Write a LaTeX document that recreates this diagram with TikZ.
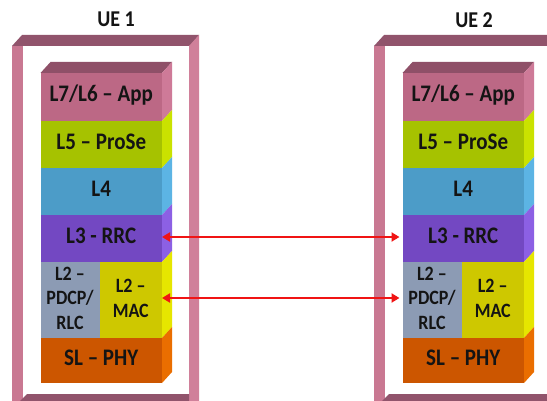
\documentclass[tikz,border=0pt]{standalone}
\usepackage{fontspec}
\usepackage{graphicx}
\setmainfont{Carlito}
\usetikzlibrary{arrows.meta}

% frame colours
\definecolor{frameF}{RGB}{201,120,146}
\definecolor{frameS}{RGB}{208,128,154}
\definecolor{frameT}{RGB}{145,84,108}
% layer colours: front / side
\definecolor{appF}{RGB}{188,104,133}
\definecolor{appS}{RGB}{206,122,152}
\definecolor{appT}{RGB}{143,80,104}
\definecolor{proseF}{RGB}{166,194,0}
\definecolor{proseS}{RGB}{202,226,0}
\definecolor{lfourF}{RGB}{76,156,200}
\definecolor{lfourS}{RGB}{92,180,228}
\definecolor{rrcF}{RGB}{115,72,194}
\definecolor{rrcS}{RGB}{140,96,228}
\definecolor{pdcpF}{RGB}{140,155,180}
\definecolor{macF}{RGB}{206,200,0}
\definecolor{macS}{RGB}{230,230,0}
\definecolor{phyF}{RGB}{204,86,0}
\definecolor{phyS}{RGB}{234,110,0}
\definecolor{sigred}{RGB}{240,20,20}

% slightly tall lettering
\newcommand\tall[1]{\scalebox{1}[1.13]{\begin{tabular}{@{}c@{}}#1\end{tabular}}}

\tikzset{
  layerbox/.style={draw=none, inner sep=0pt, outer sep=0pt, anchor=north west,
    align=center, text=black!92, font=\fontsize{21}{22}\selectfont\bfseries},
  smallbox/.style={layerbox, font=\fontsize{18}{22}\selectfont\bfseries},
  uelabel/.style={text=black!92, font=\fontsize{20}{24}\selectfont\bfseries},
  sig/.style={draw=sigred, line width=2.8pt, {Triangle[length=8pt,width=9pt]}-{Triangle[length=8pt,width=9pt]}},
}

% side face to the right of a front-face node
\newcommand\sideface[2]{%
  \fill[#2] (#1.north east) -- ([shift={(10,-11)}]#1.north east)
    -- ([shift={(10,-11)}]#1.south east) -- (#1.south east) -- cycle;}

\begin{document}
\begin{tikzpicture}[x=1pt,y=-1pt]
\useasboundingbox (0,0) rectangle (547,401);
\clip (0,0) rectangle (547,401);
\fill[white] (0,0) rectangle (547,401);

\foreach \u/\x in {1/0,2/362}{
  % open 3-D frame around each UE
  \fill[frameT] (\x+12,46) -- (\x+190,46) -- (\x+199,35) -- (\x+22,35) -- cycle;
  \fill[frameF] (\x+12,46) rectangle (\x+23,401);
  \fill[frameS] (\x+189,46) -- (\x+199,35) -- (\x+199,401) -- (\x+189,401) -- cycle;
  \fill[frameT] (\x+20,401) -- (\x+27,394) -- (\x+189,394) -- (\x+189,401) -- cycle;

  % protocol stack, front faces
  \node[layerbox, fill=appF,   minimum width=121.5pt, minimum height=48pt] (app\u)   at (\x+40.5,73)  {\tall{L7/L6 – App}};
  \node[layerbox, fill=proseF, minimum width=121.5pt, minimum height=47pt] (prose\u) at (\x+40.5,121) {\tall{L5 – ProSe}};
  \node[layerbox, fill=lfourF, minimum width=121.5pt, minimum height=47pt] (lfour\u) at (\x+40.5,168) {\tall{L4}};
  \node[layerbox, fill=rrcF,   minimum width=121.5pt, minimum height=47pt] (rrc\u)   at (\x+40.5,215) {\tall{L3 - RRC}};
  \node[smallbox, fill=pdcpF,  minimum width=59pt,    minimum height=76pt] (pdcp\u)  at (\x+40.5,262) {\tall{L2 –\\PDCP/\\RLC}};
  \node[smallbox, fill=macF,   minimum width=62.5pt,  minimum height=76pt] (mac\u)   at (\x+99.5,262) {\tall{L2 –\\MAC}};
  \node[layerbox, fill=phyF,   minimum width=121.5pt, minimum height=45pt] (phy\u)   at (\x+40.5,338) {\tall{SL – PHY}};

  % top and side faces
  \fill[appT] (app\u.north west) -- (app\u.north east)
    -- ([shift={(10,-11)}]app\u.north east) -- ([shift={(10,-11)}]app\u.north west) -- cycle;
  \sideface{app\u}{appS}
  \sideface{prose\u}{proseS}
  \sideface{lfour\u}{lfourS}
  \sideface{rrc\u}{rrcS}
  \sideface{mac\u}{macS}
  \sideface{phy\u}{phyS}
}

\node[uelabel] (ue1) at (116,21) {\tall{UE 1}};
\node[uelabel] (ue2) at (474,22) {\tall{UE 2}};

% peer-to-peer links
\draw[sig] ([yshift=1.5pt]rrc1.east) -- ([yshift=1.5pt,xshift=-3pt]rrc2.west);
\draw[sig] ([yshift=2pt]mac1.east) -- ([yshift=2pt,xshift=-3pt]pdcp2.west);
\end{tikzpicture}
\end{document}
